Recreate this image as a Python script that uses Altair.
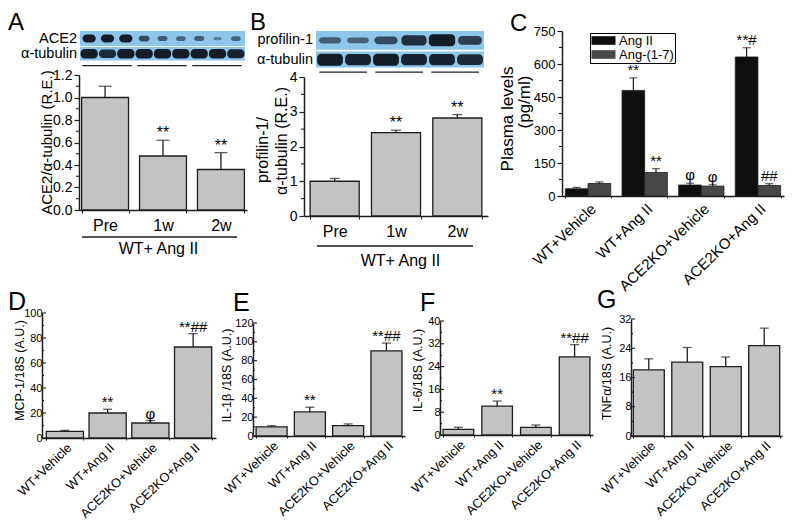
import altair as alt
import pandas as pd

FONT = "Liberation Sans"
INK = "#1e1e1e"
BAR_FILL = "#c3c3c3"
BLOT_BG = "#8cc6ea"
BAND_INK = "#141c28"

# ---------------- data ----------------
# Panel A : ACE2 / alpha-tubulin
a_groups = ["Pre", "1w", "2w"]
a_values = [1.00, 0.48, 0.36]
a_errors = [0.10, 0.14, 0.15]
a_sig = ["", "**", "**"]
a_yticks = [0.0, 0.2, 0.4, 0.6, 0.8, 1.0, 1.2]
a_ace2_bands = [1.0, 1.0, 1.0, 0.6, 0.45, 0.4, 0.45, 0.15, 0.4]
a_tub_bands = [1.0, 0.9, 1.0, 1.0, 1.0, 1.0, 1.0, 1.0, 0.95]

# Panel B : profilin-1 / alpha-tubulin
b_groups = ["Pre", "1w", "2w"]
b_values = [1.00, 2.40, 2.82]
b_errors = [0.08, 0.07, 0.10]
b_sig = ["", "**", "**"]
b_yticks = [0, 1, 2, 3, 4]
b_prof_bands = [0.45, 0.4, 0.6, 0.85, 1.0, 0.7]
b_tub_bands = [1.0, 0.95, 1.0, 0.95, 0.95, 0.9]

# Panel C : plasma levels
treatments = ["WT+Vehicle", "WT+Ang II", "ACE2KO+Vehicle", "ACE2KO+Ang II"]
peptides = ["Ang II", "Ang-(1-7)"]
c_angii = [33, 480, 50, 632]
c_angii_err = [6, 57, 8, 42]
c_angii_sig = ["", "**", "φ", "**#"]
c_ang17 = [57, 107, 45, 48]
c_ang17_err = [7, 17, 6, 8]
c_ang17_sig = ["", "**", "φ", "##"]
c_yticks = [0, 150, 300, 450, 600, 750]

# Panels D-G : mRNA / 18S
d_values = [5.3, 20.0, 12.0, 72.8]
d_errors = [0.8, 3.0, 2.0, 10.7]
d_sig = ["", "**", "φ", "**##"]
d_yticks = [0, 20, 40, 60, 80, 100]

e_values = [9.6, 25.6, 11.0, 90.5]
e_errors = [1.4, 4.9, 1.8, 8.2]
e_sig = ["", "**", "", "**##"]
e_yticks = [0, 20, 40, 60, 80, 100, 120]

f_values = [2.0, 10.1, 2.7, 27.4]
f_errors = [0.7, 1.8, 0.8, 4.3]
f_sig = ["", "**", "", "**##"]
f_yticks = [0, 8, 16, 24, 32, 40]

g_values = [18.1, 20.2, 19.0, 24.7]
g_errors = [3.0, 4.0, 2.6, 4.8]
g_sig = ["", "", "", ""]
g_yticks = [0, 8, 16, 24, 32]

# ---------------- canvas ----------------
W, H = 777, 514   # one shared drawing area; every panel gets its own scales in it
LABEL_ANGLE = -44


def minor_of(ticks):
    return [(a + b) / 2 for a, b in zip(ticks[:-1], ticks[1:])]


def letter(ch, x, y, size=25):
    return alt.Chart(pd.DataFrame({"t": [ch]})).mark_text(
        font=FONT, fontSize=size, align="left", baseline="top", color="black"
    ).encode(text="t:N", x=alt.value(x), y=alt.value(y))


def vtext(txt, x, y, size):
    return alt.Chart(pd.DataFrame({"t": [txt]})).mark_text(
        font=FONT, fontSize=size, align="center", baseline="middle", angle=270, color="black"
    ).encode(text="t:N", x=alt.value(x), y=alt.value(y))


def underline(x0, x1, y):
    return alt.Chart(pd.DataFrame({"z": [0]})).mark_rule(color=INK, strokeWidth=1.3).encode(
        x=alt.value(x0), x2=alt.value(x1), y=alt.value(y))


def y_axis(title, ticks, fmt, axis_x, title_dx, title_y, title_size, label_size, outward):
    kw = dict(orient="left", offset=-axis_x, values=ticks, format=fmt,
              labelFontSize=label_size, domainWidth=1.5, grid=False)
    if title:
        kw.update(title=title, titleFontSize=title_size, titleX=title_dx, titleY=title_y,
                  titleAlign="center", titleBaseline="middle", titleAngle=270)
    else:
        kw.update(title=None)
    if outward:
        kw.update(ticks=True, tickSize=5, tickWidth=1.2, labelPadding=2)
    else:
        kw.update(ticks=False, labelPadding=0)
    return alt.Axis(**kw)


def x_axis_time(axis_y, title_x, title_dy):
    return alt.Axis(orient="bottom", offset=-(H - axis_y), title="WT+ Ang II", titleFontSize=16,
                    titleX=title_x, titleY=title_dy, titleAlign="center", titleBaseline="middle",
                    labelAngle=0, labelFontSize=16, labelPadding=4, labelBaseline="top",
                    tickBand="extent", tickSize=3, domainWidth=1.5, grid=False)


def x_axis_groups(axis_y, size, pad):
    return alt.Axis(orient="bottom", offset=-(H - axis_y), title=None, labelAngle=LABEL_ANGLE,
                    labelAlign="right", labelBaseline="top", labelFontSize=size, labelPadding=pad,
                    tickBand="extent", tickSize=2, domainWidth=1.5, grid=False)


def tick_rules(vals, yscale, yaxis, x0, x1):
    return alt.Chart(pd.DataFrame({"v": vals})).mark_rule(color=INK, strokeWidth=1.1).encode(
        y=alt.Y("v:Q", scale=yscale, axis=yaxis), x=alt.value(x0), x2=alt.value(x1))


def bar_group(cats, vals, errs, sig, x_rng, y_rng, ticks, pad_in, pad_out, xaxis, yaxis,
              cap, sig_size, outward):
    ys = alt.Scale(domain=[ticks[0], ticks[-1]], range=y_rng, nice=False, zero=True)
    xs = alt.Scale(domain=cats, range=x_rng, paddingInner=pad_in, paddingOuter=pad_out)
    df = pd.DataFrame({"cat": cats, "val": vals, "err": errs, "sig": sig})
    base = alt.Chart(df).transform_calculate(top="datum.val + datum.err")
    X = alt.X("cat:N", scale=xs, axis=xaxis)
    layers = [
        base.mark_bar(fill=BAR_FILL, stroke=INK, strokeWidth=1.3).encode(
            x=X, y=alt.Y("val:Q", scale=ys, axis=yaxis)),
        base.mark_rule(color=INK, strokeWidth=1.3).encode(
            x=X, y=alt.Y("val:Q", scale=ys, axis=yaxis), y2="top:Q"),
        base.mark_tick(color=INK, thickness=1.3, size=cap).encode(
            x=X, y=alt.Y("top:Q", scale=ys, axis=yaxis)),
        base.mark_text(font=FONT, fontSize=sig_size, dy=-2, baseline="alphabetic",
                       color="black").encode(
            x=X, y=alt.Y("top:Q", scale=ys, axis=yaxis), text="sig:N"),
    ]
    ax = x_rng[0]
    if outward:
        layers.append(tick_rules(minor_of(ticks), ys, yaxis, ax - 3, ax))
    else:
        layers.append(tick_rules(ticks, ys, yaxis, ax, ax + 4))
        layers.append(tick_rules(minor_of(ticks), ys, yaxis, ax, ax + 2))
    return alt.layer(*layers)


def blot_group(row_names, row_bands, per_group, x_rng, y_rng, centers, hw, hh, spans):
    n = len(row_bands[0])
    xs = alt.Scale(domain=[0, n], range=x_rng)
    ys = alt.Scale(domain=[-0.35, 2.0], range=y_rng)
    strips = pd.DataFrame({"x0": [0, 0], "x1": [n, n],
                           "lo": [s[0] for s in spans], "hi": [s[1] for s in spans]})
    lanes, rows, vals = [], [], []
    for r, bands in enumerate(row_bands):
        for i, v in enumerate(bands):
            lanes.append(i)
            rows.append(r)
            vals.append(v)
    bands_df = pd.DataFrame({"lane": lanes, "row": rows, "v": vals})
    ng = n // per_group
    lines = pd.DataFrame({"g0": [g * per_group + 0.12 for g in range(ng)],
                          "g1": [(g + 1) * per_group - 0.18 for g in range(ng)],
                          "yy": [-0.2] * ng})
    labels = pd.DataFrame({"name": row_names, "yc": centers, "x": [0, 0]})

    strip_layer = alt.Chart(strips).mark_rect(color=BLOT_BG).encode(
        x=alt.X("x0:Q", scale=xs, axis=None), x2="x1:Q",
        y=alt.Y("lo:Q", scale=ys, axis=None), y2="hi:Q")
    band_layer = alt.Chart(bands_df).transform_calculate(
        hw=f"datum.row == 0 ? ({hw[0]}) : ({hw[1]})",
        hh=f"datum.row == 0 ? ({hh[0]}) : ({hh[1]})",
        yc=f"datum.row == 0 ? {centers[0]} : {centers[1]}",
    ).transform_calculate(
        bx0="datum.lane + 0.5 - datum.hw", bx1="datum.lane + 0.5 + datum.hw",
        by0="datum.yc - datum.hh", by1="datum.yc + datum.hh",
    ).mark_rect(color=BAND_INK, cornerRadius=4).encode(
        x=alt.X("bx0:Q", scale=xs, axis=None), x2="bx1:Q",
        y=alt.Y("by0:Q", scale=ys, axis=None), y2="by1:Q",
        opacity=alt.Opacity("v:Q", scale=alt.Scale(domain=[0, 1], range=[0.3, 1]), legend=None))
    line_layer = alt.Chart(lines).mark_rule(color=INK, strokeWidth=1.3).encode(
        x=alt.X("g0:Q", scale=xs, axis=None), x2="g1:Q",
        y=alt.Y("yy:Q", scale=ys, axis=None))
    label_layer = alt.Chart(labels).mark_text(
        font=FONT, fontSize=14.5, align="right", baseline="middle", dx=-3, color="black"
    ).encode(x=alt.X("x:Q", scale=xs, axis=None), y=alt.Y("yc:Q", scale=ys, axis=None),
             text="name:N")
    return alt.layer(strip_layer, band_layer, line_layer, label_layer)


# ---------------- panel A ----------------
A_X, A_Y = [71, 239], [202, 67]
panel_a = bar_group(
    a_groups, a_values, a_errors, a_sig, A_X, A_Y, a_yticks, 0.19, 0.045,
    x_axis_time(A_Y[0], 150, 38),
    y_axis("ACE2/α-tubulin (R.E.)", a_yticks, ".1f", A_X[0], -33, 134, 15, 14, True),
    13, 16, True)
blot_a = blot_group(["ACE2", "α-tubulin"], [a_ace2_bands, a_tub_bands], 3, [72, 237], [60, 23],
                    [1.52, 0.55], ["0.2 + 0.16*datum.v", "0.47"],
                    ["0.08 + 0.17*datum.v", "0.3*datum.v"], [(1.05, 2.0), (0.12, 0.98)])

# ---------------- panel B ----------------
B_X, B_Y = [296, 480], [208, 69]
panel_b = bar_group(
    b_groups, b_values, b_errors, b_sig, B_X, B_Y, b_yticks, 0.2, 0.1,
    x_axis_time(B_Y[0], 392, 44),
    y_axis(None, b_yticks, "d", B_X[0], 0, 0, 16, 14, True),
    10, 16, True)
blot_b = blot_group(["profilin-1", "α-tubulin"], [b_prof_bands, b_tub_bands], 2, [308, 476],
                    [67, 23], [1.5, 0.47], ["0.33 + 0.14*datum.v", "0.46"],
                    ["0.05 + 0.27*datum.v", "0.32*datum.v"], [(1.0, 2.0), (0.05, 0.9)])

# ---------------- panel C ----------------
C_X, C_Y = [554, 776], [188, 23]
c_df = pd.DataFrame({
    "grp": treatments * 2,
    "pep": [peptides[0]] * len(treatments) + [peptides[1]] * len(treatments),
    "val": c_angii + c_ang17,
    "err": c_angii_err + c_ang17_err,
    "sig": c_angii_sig + c_ang17_sig,
})
c_ys = alt.Scale(domain=[0, 750], range=C_Y, nice=False, zero=True)
c_xs = alt.Scale(domain=treatments, range=C_X, paddingInner=0.2, paddingOuter=0.06)
c_yaxis = y_axis(None, c_yticks, "d", C_X[0], 0, 0, 16, 13, True)
c_X = alt.X("grp:N", scale=c_xs, axis=x_axis_groups(C_Y[0], 15, 3))
c_off = alt.XOffset("pep:N", scale=alt.Scale(domain=peptides, paddingInner=0, paddingOuter=0))
c_base = alt.Chart(c_df).transform_calculate(top="datum.val + datum.err")
c_legend = alt.Legend(title=None, orient="none", legendX=582, legendY=25, direction="vertical",
                      strokeColor="black", fillColor="white", padding=1,
                      labelFontSize=13, labelFont=FONT, labelColor="black",
                      symbolType="M-2,-0.72H2V0.72H-2Z", symbolSize=144,
                      symbolStrokeWidth=0, symbolOffset=6, labelOffset=9, rowPadding=0)
panel_c = alt.layer(
    c_base.mark_bar(stroke=INK, strokeWidth=0.8).encode(
        x=c_X, xOffset=c_off, y=alt.Y("val:Q", scale=c_ys, axis=c_yaxis),
        color=alt.Color("pep:N", scale=alt.Scale(domain=peptides, range=["#0f0f0f", "#474747"]),
                        legend=c_legend)),
    c_base.mark_rule(color=INK, strokeWidth=1.2).encode(
        x=c_X, xOffset=c_off, y=alt.Y("val:Q", scale=c_ys, axis=c_yaxis), y2="top:Q"),
    c_base.mark_tick(color=INK, thickness=1.2, size=8).encode(
        x=c_X, xOffset=c_off, y=alt.Y("top:Q", scale=c_ys, axis=c_yaxis)),
    c_base.mark_text(font=FONT, fontSize=15, dy=-3, baseline="alphabetic", color="black").encode(
        x=c_X, xOffset=c_off, y=alt.Y("top:Q", scale=c_ys, axis=c_yaxis), text="sig:N"),
    tick_rules(minor_of(c_yticks), c_ys, c_yaxis, C_X[0] - 3, C_X[0]),
)


# ---------------- panels D-G ----------------
def lower_panel(vals, errs, sig, ticks, title, x_rng, y_rng, title_dx, title_y, pi, po):
    return bar_group(treatments, vals, errs, sig, x_rng, y_rng, ticks, pi, po,
                     x_axis_groups(y_rng[0], 12.8, 1),
                     y_axis(title, ticks, "d", x_rng[0], title_dx, title_y, 12.5, 11, False),
                     9, 15, False)


panel_d = lower_panel(d_values, d_errors, d_sig, d_yticks, "MCP-1/18S (A.U.)",
                      [34, 208], [430, 305], -23, 362, 0.13, 0.1)
panel_e = lower_panel(e_values, e_errors, e_sig, e_yticks, "IL-1β /18S (A.U.)",
                      [245, 397], [428, 315], -27, 367, 0.19, 0.08)
panel_f = lower_panel(f_values, f_errors, f_sig, f_yticks, "IL-6/18S (A.U.)",
                      [432, 585], [427, 313], -23, 362, 0.21, 0.08)
panel_g = lower_panel(g_values, g_errors, g_sig, g_yticks, "TNFα/18S (A.U.)",
                      [623, 774], [428, 311], -25, 365, 0.195, 0.06)

chart = alt.layer(
    panel_a, blot_a, panel_b, blot_b, panel_c, panel_d, panel_e, panel_f, panel_g,
    underline(74, 229, 229), underline(309, 465, 238),
    vtext("profilin-1/", 255, 142, 16), vtext("α-tubulin (R.E.)", 274, 133, 16),
    vtext("Plasma levels", 500, 111, 17), vtext("(pg/ml)", 517, 94, 17),
    letter("A", 0, 3, 24), letter("B", 242, 3, 24), letter("C", 502, 4, 24),
    letter("D", 0, 282), letter("E", 225, 283), letter("F", 412, 283), letter("G", 589, 280),
).resolve_scale(
    x="independent", y="independent", color="independent"
).properties(
    width=W, height=H, padding=0, autosize=alt.AutoSizeParams(type="none")
).configure_view(stroke=None).configure_axis(
    labelFont=FONT, titleFont=FONT, labelColor="black", titleColor="black",
    domainColor=INK, tickColor=INK, grid=False, titleFontWeight="normal",
    labelOverlap=False, labelFlush=False
).configure_legend(labelFont=FONT)

chart.save("out.html", embed_options={"renderer": "svg", "actions": False})
